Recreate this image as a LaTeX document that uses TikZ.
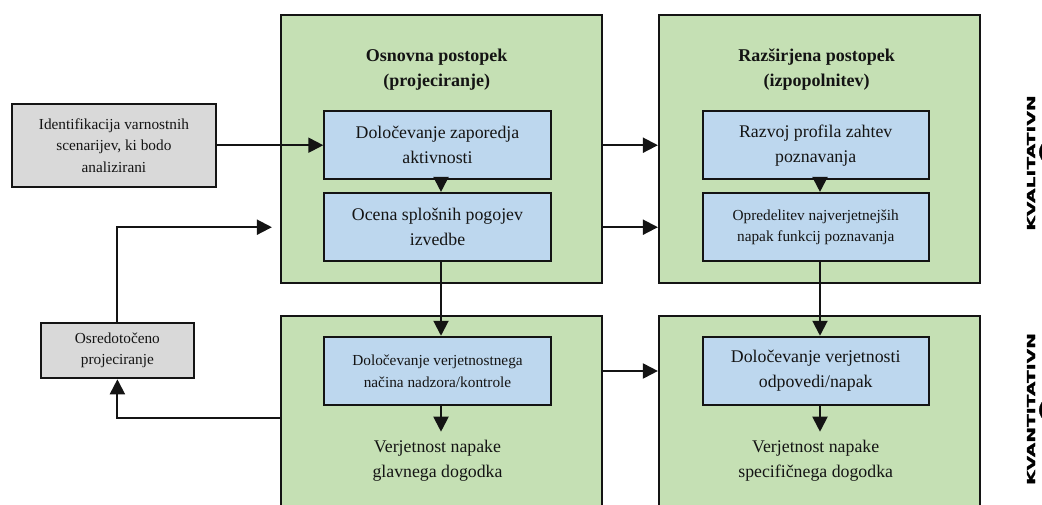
\documentclass[tikz,border=0pt]{standalone}
\usepackage{graphicx}
\usepackage{fontspec}
\setmainfont{Liberation Serif}
\newfontfamily\widefont[FakeBold=1.5]{DejaVu Sans}
\usetikzlibrary{arrows.meta}

\definecolor{panelgreen}{HTML}{C5E0B4}
\definecolor{stepblue}{HTML}{BDD7EE}
\definecolor{inputgray}{HTML}{D9D9D9}
\definecolor{ink}{HTML}{141414}

\tikzset{
  panel/.style={draw=ink, line width=2.2pt, fill=panelgreen, minimum width=321pt, inner sep=0pt},
  bigtext/.style={font=\fontsize{17.8}{25}\selectfont},
  smalltext/.style={font=\fontsize{15.3}{21.5}\selectfont},
  stepbox/.style={draw=ink, line width=2pt, fill=stepblue, minimum width=226.4pt,
    minimum height=68.5pt, inner sep=0pt, align=center, text=ink},
  inbox/.style={draw=ink, line width=2pt, fill=inputgray, inner sep=0pt, align=center,
    text=ink, smalltext},
  result/.style={bigtext, align=center, anchor=north, inner xsep=0pt, inner ysep=8pt, text=ink},
  paneltitle/.style={font=\bfseries\fontsize{18}{25}\selectfont, align=center, text=ink},
  sidelabel/.style={font=\widefont\bfseries\fontsize{11}{11}\selectfont, rotate=90, inner sep=0pt},
  sideparen/.style={font=\widefont\bfseries\fontsize{17}{17}\selectfont, anchor=west, inner sep=0pt},
  arr/.style={draw=ink, line width=2pt, -{Triangle[length=15pt,width=15pt]}},
}

\begin{document}
\begin{tikzpicture}[x=1pt, y=-1pt]
\useasboundingbox (0,0) rectangle (1042,504);

% process panels
\node[panel, minimum height=268pt]   (G1) at (441.5,149) {};
\node[panel, minimum height=268pt]   (G2) at (819.5,149) {};
\node[panel, minimum height=204.6pt] (G3) at (441.5,418.3) {};
\node[panel, minimum height=204.6pt] (G4) at (819.5,418.3) {};

% panel titles
\node[paneltitle] (T1) at (436.7,69.5) {Osnovna postopek\\(projeciranje)};
\node[paneltitle] (T2) at (816.7,69.5) {Razširjena postopek\\(izpopolnitev)};

% steps
\node[stepbox, bigtext]   (B1) at (437.5,145.2) {Določevanje zaporedja\\aktivnosti};
\node[stepbox, bigtext]   (B2) at (437.5,227.2) {Ocena splošnih pogojev\\izvedbe};
\node[stepbox, bigtext]   (B3) at (815.7,145.2) {Razvoj profila zahtev\\poznavanja};
\node[stepbox, smalltext] (B4) at (815.7,227.2) {Opredelitev najverjetnejših\\napak funkcij poznavanja};
\node[stepbox, smalltext] (B5) at (437.5,371) {Določevanje verjetnostnega\\načina nadzora/kontrole};
\node[stepbox, bigtext]   (B6) at (815.7,371) {Določevanje verjetnosti\\odpovedi/napak};

% results
\node[result] (R1) at (437.5,431.7) {Verjetnost napake\\glavnega dogodka};
\node[result] (R2) at (815.7,431.7) {Verjetnost napake\\specifičnega dogodka};

% inputs
\node[inbox, minimum width=204.3pt, minimum height=83pt] (I1) at (113.9,145.5)
  {Identifikacija varnostnih\\scenarijev, ki bodo\\analizirani};
\node[inbox, minimum width=153.3pt, minimum height=55.6pt] (I2) at (117.4,350.5)
  {Osredotočeno\\projeciranje};

% side labels
\node[sidelabel] (Q1) at (1031,163) {\scalebox{1.7}[1]{KVALITATIVN}};
\node[sidelabel] (Q2) at (1031,409) {\scalebox{1.7}[1]{KVANTITATIVN}};
\node[sideparen] (P1) at (1037.5,152) {(};
\node[sideparen] (P2) at (1037.5,410) {(};

% connectors
\draw[arr] (I1.east |- B1.west) -- (B1.west);
\draw[arr] ([xshift=3.5pt]B1.south) -- ([xshift=3.5pt]B2.north);
\draw[arr] ([xshift=3.5pt]B2.south) -- ([xshift=3.5pt]B5.north);
\draw[arr] ([xshift=3.5pt]B5.south) -- ([xshift=3.5pt]R1.north);
\draw[arr] ([xshift=4.3pt]B3.south) -- ([xshift=4.3pt]B4.north);
\draw[arr] ([xshift=4.3pt]B4.south) -- ([xshift=4.3pt]B6.north);
\draw[arr] ([xshift=4.3pt]B6.south) -- ([xshift=4.3pt]R2.north);
\draw[arr] (G1.east |- B1.east) -- (G2.west |- B1.east);
\draw[arr] (G1.east |- B2.east) -- (G2.west |- B2.east);
\draw[arr] (G3.east |- B5.east) -- (G4.west |- B5.east);
\draw[arr] (I2.north) |- ([xshift=-8pt]G1.west |- B2.west);
\draw[arr] (G3.west) -| (I2.south);
\end{tikzpicture}
\end{document}
